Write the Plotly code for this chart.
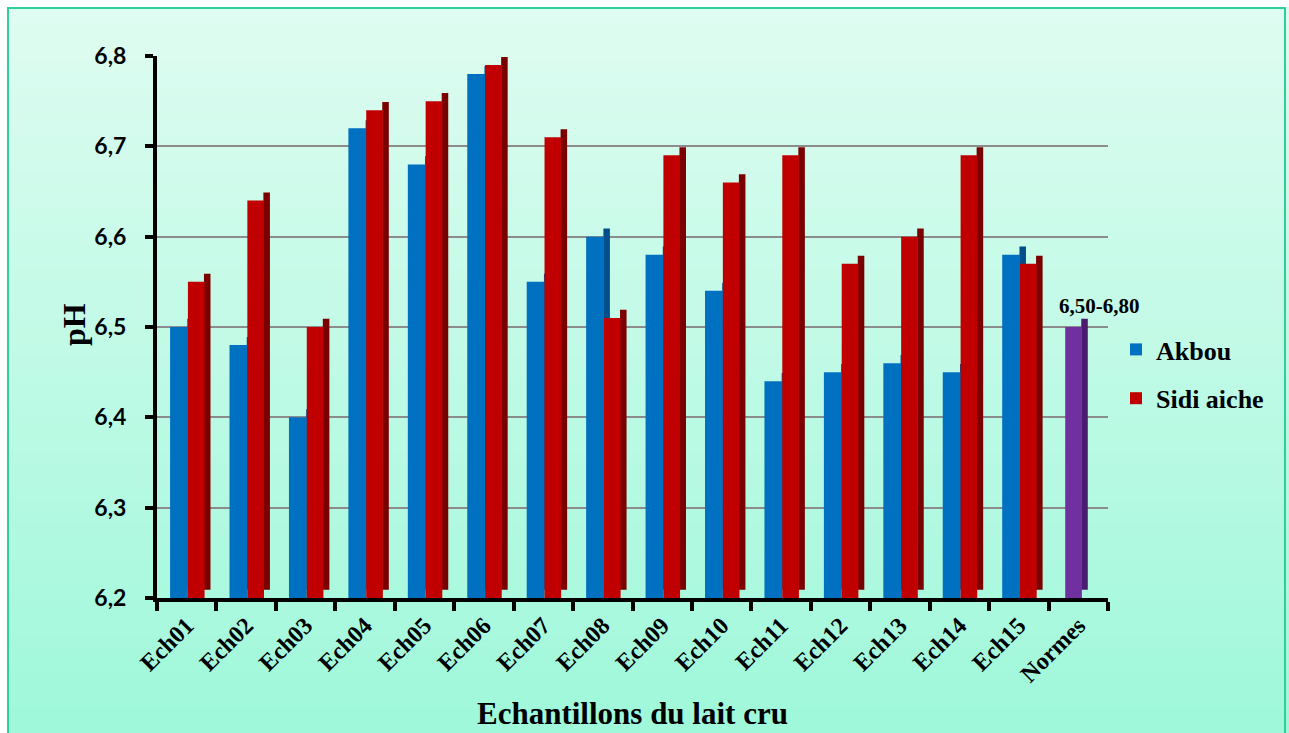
import plotly.graph_objects as go

categories = ["Ech01", "Ech02", "Ech03", "Ech04", "Ech05", "Ech06", "Ech07", "Ech08",
              "Ech09", "Ech10", "Ech11", "Ech12", "Ech13", "Ech14", "Ech15"]
akbou = [6.50, 6.48, 6.40, 6.72, 6.68, 6.78, 6.55, 6.60, 6.58, 6.54, 6.44, 6.45, 6.46, 6.45, 6.58]
sidi_aiche = [6.55, 6.64, 6.50, 6.74, 6.75, 6.79, 6.71, 6.51, 6.69, 6.66, 6.69, 6.57, 6.60, 6.69, 6.57]
normes_category = ["Normes"]
normes_value = [6.50]
normes_label = "6,50-6,80"
y_ticks = [6.2, 6.3, 6.4, 6.5, 6.6, 6.7, 6.8]

all_cats = categories + normes_category
Y0 = 6.2
DEPTH = 0.009

# plot-area pixel geometry
W, H = 1289, 733
L, R, T, B = 157, 181, 56, 135
pw, ph = W - L - R, H - T - B


def px2x(px):
    return (px - L) / pw


def px2y(py):
    return (H - B - py) / ph


fig = go.Figure()


def add_series(cats, vals, name, color, dark, offset, width, show):
    # side face (3D look) drawn first
    fig.add_trace(go.Bar(
        x=cats, y=[v - Y0 for v in vals], base=[Y0 + DEPTH] * len(vals),
        offset=offset + width - 0.01, width=0.11, marker=dict(color=dark, line=dict(width=0)),
        showlegend=False, hoverinfo="skip"))
    return dict(x=cats, y=[v - Y0 for v in vals], base=[Y0] * len(vals), name=name,
                legendgroup=name, offset=offset, width=width,
                marker=dict(color=color, line=dict(width=0)), showlegend=show)


a = add_series(categories, akbou, "Akbou", "#0070c0", "#004f8a", -0.28, 0.30, True)
s = add_series(categories, sidi_aiche, "Sidi aiche", "#c00000", "#7a0000", 0.02, 0.28, True)
n = add_series(normes_category, normes_value, "Normes", "#7030a0", "#4a1c6e", -0.22, 0.28, False)
for tr in (a, s, n):
    fig.add_trace(go.Bar(**tr))

# background gradient
shapes = []
top_c = (0xdf, 0xfc, 0xf1)
bot_c = (0x9f, 0xf8, 0xda)
nstrip = 60
for i in range(nstrip):
    t = i / (nstrip - 1)
    c = tuple(round(top_c[k] + (bot_c[k] - top_c[k]) * t) for k in range(3))
    y_top = i * H / nstrip
    y_bot = (i + 1) * H / nstrip + 1
    shapes.append(dict(type="rect", xref="paper", yref="paper", layer="below",
                       x0=px2x(0), x1=px2x(W), y0=px2y(y_bot), y1=px2y(y_top),
                       fillcolor="rgb(%d,%d,%d)" % c, line=dict(width=0)))
# white outside frame + teal frame
shapes.append(dict(type="rect", xref="paper", yref="paper", layer="below",
                   x0=px2x(0), x1=px2x(W), y0=px2y(7), y1=px2y(0),
                   fillcolor="white", line=dict(width=0)))
shapes.append(dict(type="rect", xref="paper", yref="paper", layer="below",
                   x0=px2x(0), x1=px2x(7), y0=px2y(H), y1=px2y(0),
                   fillcolor="white", line=dict(width=0)))
shapes.append(dict(type="rect", xref="paper", yref="paper", layer="below",
                   x0=px2x(8), x1=px2x(W - 4), y0=px2y(H + 5), y1=px2y(8),
                   fillcolor="rgba(0,0,0,0)", line=dict(color="#2fcf9c", width=2)))

annotations = [
    dict(x="Normes", y=normes_value[0], xref="x", yref="y", text="<b>" + normes_label + "</b>",
         showarrow=False, yanchor="bottom", xshift=21, yshift=7,
         font=dict(family="Liberation Serif", size=21, color="black")),
    dict(x=0.5, y=px2y(713), xref="paper", yref="paper", text="<b>Echantillons du lait cru</b>",
         showarrow=False, yanchor="middle", xanchor="center",
         font=dict(family="Liberation Serif", size=31, color="black")),
    dict(x=px2x(74), y=px2y(325), xref="paper", yref="paper", text="<b>pH</b>",
         showarrow=False, textangle=-90, yanchor="middle", xanchor="center",
         font=dict(family="Liberation Serif", size=32, color="black")),
]

fig.update_layout(
    width=W, height=H,
    margin=dict(l=L, r=R, t=T, b=B, pad=0),
    barmode="overlay",
    separators=",.",
    paper_bgcolor="white",
    plot_bgcolor="rgba(0,0,0,0)",
    shapes=shapes,
    annotations=annotations,
    legend=dict(x=px2x(1116), y=px2y(374), xanchor="left", yanchor="middle",
                bgcolor="rgba(0,0,0,0)", traceorder="grouped", tracegroupgap=12,
                itemwidth=30,
                font=dict(family="Liberation Serif", size=26, color="black", weight="bold")),
    xaxis=dict(
        categoryorder="array", categoryarray=all_cats, range=[-0.5, len(all_cats) - 0.5],
        tickangle=-45, tickson="boundaries", ticks="outside", ticklen=9, tickwidth=4,
        tickcolor="black", showline=True, linecolor="black", linewidth=4,
        showgrid=False, automargin=False,
        tickfont=dict(family="Liberation Serif", size=24, color="black", weight="bold"),
    ),
    yaxis=dict(
        range=[6.2, 6.8], tickvals=y_ticks, tickformat=".1f",
        ticks="outside", ticklen=8, tickwidth=4, tickcolor="black",
        showline=True, linecolor="black", linewidth=4,
        showgrid=True, gridcolor="#8c8c8c", gridwidth=2, zeroline=False,
        automargin=False, ticklabelstandoff=14,
        tickfont=dict(family="Lato", size=23, color="black", weight="bold"),
    ),
)

fig.write_html("out.html")
